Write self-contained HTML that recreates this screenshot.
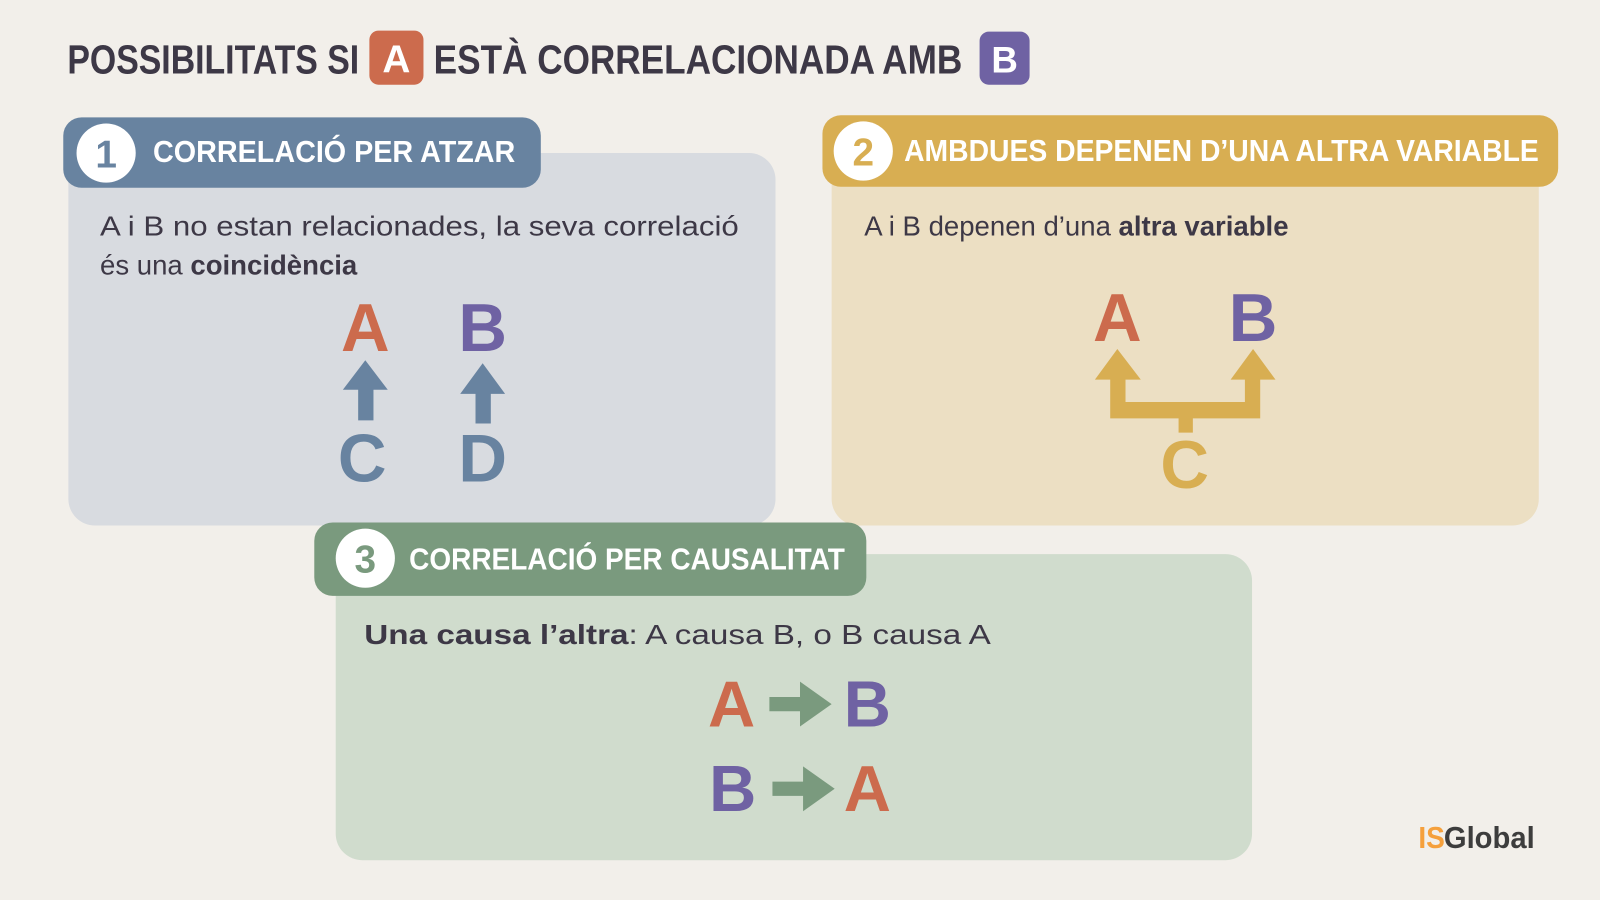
<!DOCTYPE html>
<html><head><meta charset="utf-8"><style>
html,body{margin:0;padding:0;background:#f2efea;}
svg{display:block}
text{font-family:"Liberation Sans",sans-serif;}
</style></head><body>
<svg width="1600" height="900" viewBox="0 0 1568 882" preserveAspectRatio="none" xmlns="http://www.w3.org/2000/svg">
<rect width="1568" height="882" fill="#f2efea"/>
<!-- Title -->
<text x="66" y="72" font-size="40" font-weight="bold" fill="#3d3846" textLength="286" lengthAdjust="spacingAndGlyphs">POSSIBILITATS SI</text>
<rect x="362" y="30" width="53" height="53" rx="9" fill="#cc6b4d"/>
<text x="388.5" y="71" font-size="38" font-weight="bold" fill="#fff" text-anchor="middle">A</text>
<text x="425" y="72" font-size="40" font-weight="bold" fill="#3d3846" textLength="518" lengthAdjust="spacingAndGlyphs">ESTÀ CORRELACIONADA AMB</text>
<rect x="960" y="31" width="49" height="52" rx="9" fill="#6f62a3"/>
<text x="984.5" y="71" font-size="36" font-weight="bold" fill="#fff" text-anchor="middle">B</text>

<!-- Panel 1 -->
<rect x="67" y="150" width="693" height="365" rx="26" fill="#d8dbe0"/>
<rect x="62" y="115" width="468" height="69" rx="18" fill="#6883a0"/>
<circle cx="104" cy="150" r="29" fill="#fff"/>
<text x="104" y="164" font-size="38" font-weight="bold" fill="#6883a0" text-anchor="middle">1</text>
<text x="150" y="159" font-size="30" font-weight="bold" fill="#fff" textLength="355" lengthAdjust="spacingAndGlyphs">CORRELACIÓ PER ATZAR</text>
<text x="98" y="231" font-size="27" fill="#3d3846" textLength="626" lengthAdjust="spacingAndGlyphs">A i B no estan relacionades, la seva correlació</text>
<text x="98" y="269" font-size="27" fill="#3d3846">és una <tspan font-weight="bold">coincidència</tspan></text>
<text x="358" y="344" font-size="66" font-weight="bold" fill="#cc6b4d" text-anchor="middle">A</text>
<text x="473" y="344" font-size="66" font-weight="bold" fill="#6f62a3" text-anchor="middle">B</text>
<path d="M358 353 L380 382 L366 382 L366 412 L351 412 L351 382 L336 382 Z" fill="#6883a0"/>
<path d="M473 356 L495 386 L481 386 L481 415 L466 415 L466 386 L451 386 Z" fill="#6883a0"/>
<text x="355" y="472" font-size="66" font-weight="bold" fill="#6883a0" text-anchor="middle">C</text>
<text x="473" y="472" font-size="66" font-weight="bold" fill="#6883a0" text-anchor="middle">D</text>

<!-- Panel 2 -->
<rect x="815" y="150" width="693" height="365" rx="26" fill="#ecdfc3"/>
<rect x="806" y="113" width="721" height="70" rx="18" fill="#d8ae52"/>
<circle cx="846" cy="148" r="29" fill="#fff"/>
<text x="846" y="162" font-size="38" font-weight="bold" fill="#d8ae52" text-anchor="middle">2</text>
<text x="886" y="158" font-size="30" font-weight="bold" fill="#fff" textLength="622" lengthAdjust="spacingAndGlyphs">AMBDUES DEPENEN D’UNA ALTRA VARIABLE</text>
<text x="847" y="231" font-size="27" fill="#3d3846">A i B depenen d’una <tspan font-weight="bold">altra variable</tspan></text>
<text x="1095" y="334" font-size="66" font-weight="bold" fill="#cc6b4d" text-anchor="middle">A</text>
<text x="1228" y="334" font-size="66" font-weight="bold" fill="#6f62a3" text-anchor="middle">B</text>
<path d="M1095 342 L1118 372 L1103 372 L1103 394 L1220 394 L1220 372 L1206 372 L1228 342 L1250 372 L1235 372 L1235 410 L1169 410 L1169 424 L1155 424 L1155 410 L1088 410 L1088 372 L1073 372 Z" fill="#d8ae52"/>
<text x="1161" y="478" font-size="66" font-weight="bold" fill="#d8ae52" text-anchor="middle">C</text>

<!-- Panel 3 -->
<rect x="329" y="543" width="898" height="300" rx="26" fill="#d0dccd"/>
<rect x="308" y="512" width="541" height="72" rx="18" fill="#7a9a7e"/>
<circle cx="358" cy="547" r="29" fill="#fff"/>
<text x="358" y="561" font-size="38" font-weight="bold" fill="#7a9a7e" text-anchor="middle">3</text>
<text x="401" y="558" font-size="30" font-weight="bold" fill="#fff" textLength="427" lengthAdjust="spacingAndGlyphs">CORRELACIÓ PER CAUSALITAT</text>
<text x="357" y="631" font-size="27" fill="#3d3846" textLength="614" lengthAdjust="spacingAndGlyphs"><tspan font-weight="bold">Una causa l’altra</tspan>: A causa B, o B causa A</text>
<text x="717" y="712" font-size="64" font-weight="bold" fill="#cc6b4d" text-anchor="middle">A</text>
<path d="M754 683 L784 683 L784 668 L815 690 L784 712 L784 697 L754 697 Z" fill="#7a9a7e"/>
<text x="850" y="712" font-size="64" font-weight="bold" fill="#6f62a3" text-anchor="middle">B</text>
<text x="718" y="795" font-size="64" font-weight="bold" fill="#6f62a3" text-anchor="middle">B</text>
<path d="M757 766 L787 766 L787 751 L818 773 L787 795 L787 780 L757 780 Z" fill="#7a9a7e"/>
<text x="850" y="795" font-size="64" font-weight="bold" fill="#cc6b4d" text-anchor="middle">A</text>

<!-- Logo -->
<text x="1390" y="831" font-size="30" font-weight="bold" fill="#f5a03c" textLength="26" lengthAdjust="spacingAndGlyphs">IS</text>
<text x="1415" y="831" font-size="30" font-weight="bold" fill="#3d3d3d" textLength="89" lengthAdjust="spacingAndGlyphs">Global</text>
</svg>
</body></html>
